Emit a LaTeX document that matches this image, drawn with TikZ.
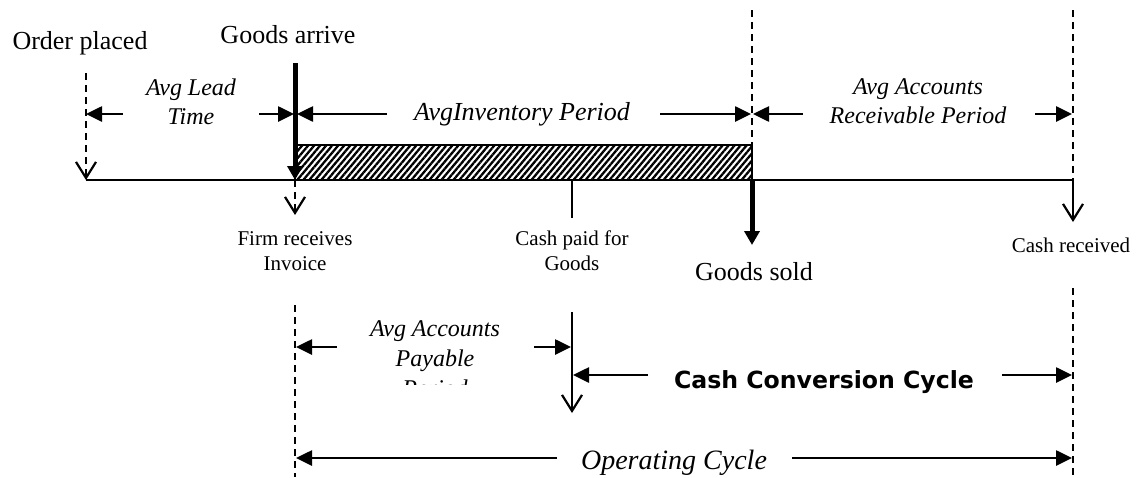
\documentclass[tikz,border=0pt]{standalone}
\usepackage{fontspec}
\setmainfont{Liberation Serif}
\newfontfamily\cccfont{DejaVu Sans}
\usetikzlibrary{arrows.meta,patterns.meta}

\tikzset{
    smalllbl/.style={inner sep=0pt, align=center, anchor=base, font=\fontsize{10.5}{12.5}\selectfont},
    biglbl/.style={inner sep=0pt, align=center, anchor=base, font=\fontsize{13}{15}\selectfont},
    periodlbl/.style={inner sep=0pt, align=center, anchor=base, font=\fontsize{12}{14.5}\selectfont\itshape},
    dimline/.style={line width=1.3pt, -{Triangle[length=8pt,width=7.5pt]}},
    guide/.style={line width=0.7pt, dash pattern=on 3.5pt off 2.5pt},
    openarrow/.style={line width=0.8pt, -{Straight Barb[length=8pt,width=10pt,line width=1.1pt]}},
    heavy/.style={line width=2.5pt, -{Triangle[length=7pt,width=7.5pt]}}
}

\begin{document}
\begin{tikzpicture}[x=0.5pt,y=-0.5pt]
    \useasboundingbox (0,0) rectangle (1141,477);

    % points on the time line
    \coordinate (order) at (86,180);
    \coordinate (arrive) at (295,180);
    \coordinate (paid) at (572,180);
    \coordinate (sold) at (752,180);
    \coordinate (received) at (1073,180);

    % inventory held
    \draw[line width=0.8pt, pattern={Lines[angle=50,distance=2.3pt,line width=1.15pt]}]
        (295,145) rectangle (752,180);
    \draw[line width=0.8pt] (order) -- (received);

    % upper guides and events
    \coordinate (ordertop) at (86,73);
    \coordinate (arrivetop) at (295,63);
    \coordinate (soldtop) at (752,10);
    \coordinate (soldbox) at (752,145);
    \coordinate (receivedtop) at (1073,10);
    \draw[guide, openarrow] (ordertop) -- (order);
    \draw[heavy] (arrivetop) -- (arrive);
    \draw[guide] (soldtop) -- (soldbox);
    \draw[guide] (receivedtop) -- (received);

    \coordinate (invoice) at (295,215);
    \coordinate (paidend) at (572,218);
    \coordinate (soldend) at (752,245);
    \coordinate (receivedend) at (1073,222);
    \draw[guide, openarrow] (arrive) -- (invoice);
    \draw[line width=0.8pt] (paid) -- (paidend);
    \draw[heavy] (sold) -- (soldend);
    \draw[openarrow] (received) -- (receivedend);

    \node[biglbl] (orderlbl) at (80,49) {Order placed};
    \node[biglbl] (arrivelbl) at (288,43) {Goods arrive};
    \node[smalllbl] (invoicelbl) at (295,270) {Firm receives\\Invoice};
    \node[smalllbl] (paidlbl) at (572,270) {Cash paid for\\Goods};
    \node[biglbl] (soldlbl) at (754,280) {Goods sold};
    \node[smalllbl] (receivedlbl) at (1071,252) {Cash received};

    % periods above the line
    \node[periodlbl] (leadlbl) at (191,124) {Avg Lead\\Time};
    \draw[dimline] (123,114) coordinate (lead1) -- (86,114) coordinate (lead0);
    \draw[dimline] (259,114) coordinate (lead2) -- (294,114) coordinate (lead3);

    \node[periodlbl, font=\fontsize{13}{15}\selectfont\itshape] (invlbl) at (522,120) {AvgInventory Period};
    \draw[dimline] (387,114) coordinate (inv1) -- (297,114) coordinate (inv0);
    \draw[dimline] (660,114) coordinate (inv2) -- (751,114) coordinate (inv3);

    \node[periodlbl] (arlbl) at (918,123) {Avg Accounts\\Receivable Period};
    \draw[dimline] (803,114) coordinate (ar1) -- (753,114) coordinate (ar0);
    \draw[dimline] (1035,114) coordinate (ar2) -- (1072,114) coordinate (ar3);

    % periods below the line
    \coordinate (invoicebot) at (295,305);
    \coordinate (invoicefoot) at (295,477);
    \coordinate (receivedbot) at (1073,288);
    \coordinate (receivedfoot) at (1073,477);
    \coordinate (paidbot) at (572,312);
    \coordinate (paidfoot) at (572,413);
    \draw[guide] (invoicebot) -- (invoicefoot);
    \draw[guide] (receivedbot) -- (receivedfoot);
    \draw[openarrow] (paidbot) -- (paidfoot);

    \begin{scope}
        \clip (250,300) rectangle (560,384);
        \node[periodlbl, font=\fontsize{12}{15}\selectfont\itshape] (aplbl) at (435,396) {Avg Accounts\\Payable\\Period};
    \end{scope}
    \draw[dimline] (337,347) coordinate (ap1) -- (296,347) coordinate (ap0);
    \draw[dimline] (534,347) coordinate (ap2) -- (571,347) coordinate (ap3);

    \node[inner sep=0pt, anchor=base, font=\cccfont\bfseries\fontsize{11.8}{13}\selectfont] (ccclbl) at (824,388) {Cash Conversion Cycle};
    \draw[dimline] (648,375) coordinate (ccc1) -- (573,375) coordinate (ccc0);
    \draw[dimline] (1002,375) coordinate (ccc2) -- (1072,375) coordinate (ccc3);

    \node[periodlbl, font=\fontsize{14}{16}\selectfont\itshape] (oplbl) at (674,469) {Operating Cycle};
    \draw[dimline] (557,458) coordinate (op1) -- (296,458) coordinate (op0);
    \draw[dimline] (792,458) coordinate (op2) -- (1072,458) coordinate (op3);
\end{tikzpicture}
\end{document}
